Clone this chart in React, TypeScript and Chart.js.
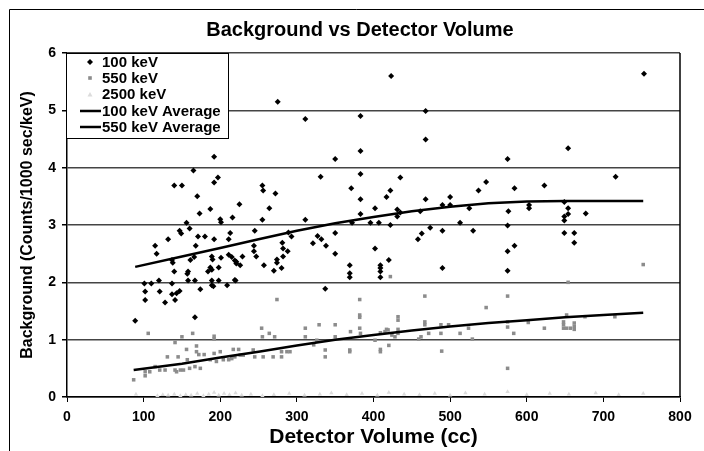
import React, { useEffect, useRef } from "react";
import { Chart, registerables } from "chart.js";

Chart.register(...registerables);

const FONT = '"Liberation Sans", Arial, Helvetica, sans-serif';

const chartTitle = "Background vs Detector Volume";
const xAxisTitle = "Detector Volume (cc)";
const yAxisTitle = "Background (Counts/1000 sec/keV)";
const seriesNames = ["100 keV", "550 keV", "2500 keV", "100 keV Average", "550 keV Average"];

const xRange = [0, 800, 100];
const yRange = [0, 6, 1];

// 100 keV measurements [volume cc, background]
const kev100: [number, number][] = [
  [192, 4.19], [165, 3.95], [140, 3.69], [150, 3.69], [192, 3.74], [197, 3.83], [170, 3.5], [173, 3.2],
  [187, 3.28], [156, 3.04], [147, 2.9], [149, 2.85], [160, 2.94], [132, 2.75], [115, 2.64], [117, 2.5],
  [171, 2.8], [180, 2.8], [192, 2.75], [168, 2.64], [200, 3.1], [201, 3.05], [216, 3.13], [213, 2.86],
  [211, 2.75], [137, 2.39], [138, 2.34], [140, 2.19], [158, 2.19], [157, 2.15], [161, 2.39], [166, 2.44],
  [189, 2.45], [190, 2.4], [201, 2.43], [187, 2.26], [189, 2.22], [184, 2.19], [198, 2.26], [211, 2.48],
  [215, 2.44], [219, 2.38], [221, 2.33], [101, 1.98], [110, 1.98], [120, 2.03], [137, 1.98], [158, 2.03],
  [167, 2.03], [189, 2.03], [189, 1.95], [198, 2.03], [209, 1.95], [220, 2.03], [102, 1.84], [121, 1.84],
  [102, 1.69], [128, 1.65], [137, 1.79], [143, 1.81], [147, 1.85], [141, 1.69], [174, 1.88], [191, 1.93],
  [89, 1.33], [167, 1.39],
  [275, 5.15], [311, 4.85], [383, 4.9], [383, 4.29], [350, 4.15], [383, 3.89], [331, 3.84], [371, 3.64],
  [383, 3.45], [417, 3.49], [422, 3.6], [255, 3.69], [256, 3.6], [272, 3.55], [225, 3.36], [264, 3.29],
  [255, 3.09], [311, 3.09], [383, 3.19], [402, 3.29], [407, 3.04], [396, 3.04], [372, 3.04], [422, 3.0],
  [245, 2.9], [289, 2.87], [293, 2.8], [327, 2.81], [332, 2.75], [321, 2.68], [338, 2.64], [350, 2.86],
  [244, 2.64], [244, 2.54], [247, 2.45], [229, 2.45], [226, 2.3], [221, 2.36], [281, 2.69], [282, 2.59],
  [288, 2.54], [282, 2.45], [274, 2.4], [274, 2.34], [280, 2.25], [270, 2.2], [257, 2.3], [350, 2.5],
  [402, 2.59], [420, 2.39], [369, 2.3], [369, 2.16], [369, 2.09], [409, 2.3], [409, 2.25], [409, 2.19],
  [409, 2.09], [219, 2.04], [337, 1.89],
  [468, 4.99], [468, 4.49], [575, 4.15], [435, 3.83], [547, 3.75], [537, 3.6], [584, 3.64], [623, 3.69],
  [468, 3.45], [500, 3.49], [490, 3.35], [500, 3.35], [431, 3.27], [435, 3.22], [431, 3.15], [461, 3.24],
  [525, 3.29], [576, 3.24], [603, 3.35], [603, 3.29], [513, 3.04], [575, 2.99], [474, 2.95], [463, 2.85],
  [458, 2.75], [490, 2.9], [530, 2.9], [575, 2.54], [584, 2.64], [490, 2.25], [575, 2.2], [423, 5.6],
  [753, 5.64], [654, 4.34], [716, 3.84], [649, 3.4], [654, 3.29], [654, 3.19], [649, 3.15], [649, 3.08],
  [677, 3.2], [649, 2.86], [662, 2.86], [662, 2.69],
];

// 550 keV measurements
const kev550: [number, number][] = [
  [274, 1.7], [382, 1.7], [382, 1.43], [382, 1.39], [382, 1.2], [106, 1.11], [150, 1.05], [164, 1.11],
  [192, 1.06], [192, 1.01], [254, 1.2], [255, 1.05], [264, 1.11], [271, 1.05], [311, 1.2], [311, 1.05],
  [329, 1.26], [350, 1.26], [350, 1.05], [370, 1.14], [383, 1.11], [417, 1.18], [409, 1.12], [141, 0.95],
  [156, 0.83], [169, 0.89], [169, 0.79], [172, 0.74], [131, 0.7], [145, 0.7], [157, 0.65], [179, 0.74],
  [192, 0.76], [200, 0.79], [217, 0.83], [224, 0.83], [243, 0.82], [245, 0.7], [256, 0.7], [269, 0.7],
  [280, 0.7], [280, 0.79], [287, 0.79], [291, 0.79], [187, 0.65], [195, 0.62], [204, 0.65], [211, 0.65],
  [215, 0.67], [219, 0.7], [226, 0.73], [230, 0.73], [167, 0.53], [160, 0.5], [174, 0.5], [141, 0.47],
  [143, 0.44], [148, 0.47], [152, 0.47], [115, 0.53], [121, 0.47], [128, 0.47], [108, 0.44], [102, 0.44],
  [102, 0.37], [87, 0.3], [337, 0.82], [337, 0.7], [322, 0.91], [326, 0.99], [369, 0.82], [369, 0.79],
  [402, 0.99], [409, 0.83], [409, 0.79],
  [467, 1.76], [575, 1.76], [547, 1.56], [432, 1.4], [432, 1.34], [467, 1.31], [467, 1.26], [488, 1.26],
  [498, 1.26], [472, 1.11], [488, 1.11], [513, 1.11], [524, 1.2], [415, 1.14], [419, 1.17], [424, 1.08],
  [428, 1.05], [432, 1.11], [432, 1.18], [420, 0.9], [459, 1.01], [462, 1.05], [489, 0.8], [529, 1.01],
  [575, 1.31], [575, 1.22], [583, 1.11], [575, 0.5], [602, 1.3], [623, 1.2], [648, 1.31], [648, 1.26],
  [648, 1.2], [652, 1.2], [657, 1.2], [662, 1.29], [662, 1.23], [662, 1.18], [652, 1.43], [676, 1.4],
  [715, 1.4], [654, 2.0], [752, 2.31], [422, 2.1],
];

// 2500 keV measurements (near zero)
const kev2500: [number, number][] = [
  [90, 0.05], [118, 0.02], [125, 0.04], [132, 0.03], [140, 0.05], [148, 0.02], [155, 0.04], [162, 0.03],
  [170, 0.06], [178, 0.02], [185, 0.05], [192, 0.08], [198, 0.03], [205, 0.06], [212, 0.04], [220, 0.07],
  [228, 0.03], [240, 0.05], [255, 0.02], [270, 0.04], [290, 0.06], [310, 0.03], [330, 0.05], [345, 0.07],
  [365, 0.04], [385, 0.06], [405, 0.03], [420, 0.08], [440, 0.05], [460, 0.04], [480, 0.06], [500, 0.03],
  [520, 0.07], [545, 0.05], [575, 0.09], [600, 0.04], [630, 0.06], [655, 0.05], [690, 0.07], [720, 0.04],
  [752, 0.06],
];

// Average (fit) curves
const avg100: [number, number][] = [
  [89, 2.27], [150, 2.45], [200, 2.6], [250, 2.75], [300, 2.9], [350, 3.03], [400, 3.14], [450, 3.24],
  [500, 3.32], [550, 3.38], [600, 3.41], [650, 3.42], [752, 3.42],
];
const avg550: [number, number][] = [
  [87, 0.47], [150, 0.58], [200, 0.69], [250, 0.79], [300, 0.9], [350, 1.0], [400, 1.08], [450, 1.16],
  [500, 1.23], [550, 1.29], [600, 1.34], [650, 1.39], [700, 1.43], [752, 1.47],
];

const toPts = (a: [number, number][]) => a.map(([x, y]) => ({ x, y }));

export default function App() {
  const ref = useRef<HTMLCanvasElement>(null);

  useEffect(() => {
    if (!ref.current) return;

    const overlay = {
      id: "overlay",
      beforeDraw(chart: any) {
        const ctx = chart.ctx;
        ctx.save();
        ctx.fillStyle = "#fff";
        ctx.fillRect(0, 0, chart.width, chart.height);
        ctx.strokeStyle = "#000";
        ctx.lineWidth = 1;
        ctx.beginPath();
        ctx.moveTo(9.5, chart.height);
        ctx.lineTo(9.5, 9.5);
        ctx.lineTo(chart.width, 9.5);
        ctx.stroke();
        ctx.restore();
      },
      afterDraw(chart: any) {
        const ctx = chart.ctx;
        const area = chart.chartArea;
        ctx.save();
        // right border of plot
        ctx.strokeStyle = "#000";
        ctx.lineWidth = 1.5;
        ctx.beginPath();
        ctx.moveTo(area.right, area.top);
        ctx.lineTo(area.right, area.bottom);
        ctx.stroke();

        // title
        ctx.fillStyle = "#000";
        ctx.font = `bold 20px ${FONT}`;
        ctx.textAlign = "center";
        ctx.textBaseline = "middle";
        ctx.fillText(chartTitle, 360, 30);

        // legend
        const lx = 66.5, ly = 53.5, lw = 162, lh = 85;
        ctx.fillStyle = "#fff";
        ctx.fillRect(lx, ly, lw, lh);
        ctx.strokeStyle = "#000";
        ctx.lineWidth = 1;
        ctx.strokeRect(lx, ly, lw, lh);
        const rows = [62, 78, 94.5, 111, 127];
        const mx = 90;
        // diamond
        ctx.fillStyle = "#000";
        ctx.beginPath();
        ctx.moveTo(mx, rows[0] - 3);
        ctx.lineTo(mx + 3, rows[0]);
        ctx.lineTo(mx, rows[0] + 3);
        ctx.lineTo(mx - 3, rows[0]);
        ctx.closePath();
        ctx.fill();
        // square
        ctx.fillStyle = "#8c8c8c";
        ctx.fillRect(mx - 1.8, rows[1] - 1.8, 3.6, 3.6);
        // triangle
        ctx.fillStyle = "#dcdcdc";
        ctx.beginPath();
        ctx.moveTo(mx, rows[2] - 2.5);
        ctx.lineTo(mx + 2.5, rows[2] + 2);
        ctx.lineTo(mx - 2.5, rows[2] + 2);
        ctx.closePath();
        ctx.fill();
        // lines
        ctx.strokeStyle = "#000";
        ctx.lineWidth = 2.5;
        [rows[3], rows[4]].forEach((ry) => {
          ctx.beginPath();
          ctx.moveTo(80, ry);
          ctx.lineTo(101, ry);
          ctx.stroke();
        });
        ctx.fillStyle = "#000";
        ctx.font = `bold 15px ${FONT}`;
        ctx.textAlign = "left";
        ctx.textBaseline = "middle";
        chart.data.datasets.forEach((ds: any, i: number) => {
          ctx.fillText(ds.label, 102, rows[i] + 0.5);
        });
        ctx.restore();
      },
    };

    const chart = new Chart(ref.current, {
      type: "scatter",
      data: {
        datasets: [
          {
            label: seriesNames[0],
            data: toPts(kev100),
            pointStyle: "rectRot",
            pointRadius: 3,
            backgroundColor: "#000",
            borderColor: "#000",
            borderWidth: 0,
            order: 1,
          },
          {
            label: seriesNames[1],
            data: toPts(kev550),
            pointStyle: "rect",
            pointRadius: 2.5,
            backgroundColor: "#8c8c8c",
            borderColor: "#8c8c8c",
            borderWidth: 0,
            order: 2,
          },
          {
            label: seriesNames[2],
            data: toPts(kev2500),
            pointStyle: "triangle",
            pointRadius: 2.5,
            backgroundColor: "#dcdcdc",
            borderColor: "#dcdcdc",
            borderWidth: 0,
            order: 3,
          },
          {
            label: seriesNames[3],
            data: toPts(avg100),
            showLine: true,
            pointRadius: 0,
            borderColor: "#000",
            backgroundColor: "#000",
            borderWidth: 2.5,
            order: 0,
          } as any,
          {
            label: seriesNames[4],
            data: toPts(avg550),
            showLine: true,
            pointRadius: 0,
            borderColor: "#000",
            backgroundColor: "#000",
            borderWidth: 2.5,
            order: 0,
          } as any,
        ],
      },
      options: {
        animation: false,
        responsive: false,
        maintainAspectRatio: false,
        layout: { padding: { top: 53, right: 24, bottom: 0, left: 0 } },
        plugins: {
          legend: { display: false },
          title: { display: false },
          tooltip: { enabled: false },
        },
        scales: {
          x: {
            type: "linear",
            min: xRange[0],
            max: xRange[1],
            ticks: {
              stepSize: xRange[2],
              color: "#000",
              padding: 7,
              maxRotation: 0,
              font: { family: FONT, size: 14, weight: "bold" },
            },
            grid: { drawOnChartArea: false, drawTicks: true, tickLength: 5, color: "#000", tickColor: "#000" },
            border: { color: "#000", width: 1.5 },
            title: {
              display: true,
              text: xAxisTitle,
              color: "#000",
              font: { family: FONT, size: 21, weight: "bold" },
              padding: { top: 0, bottom: 1 },
            },
            afterFit(scale: any) {
              scale.height = 54;
            },
          },
          y: {
            type: "linear",
            min: yRange[0],
            max: yRange[1],
            ticks: {
              stepSize: yRange[2],
              color: "#000",
              padding: 6,
              font: { family: FONT, size: 14, weight: "bold" },
            },
            grid: { color: "#444", lineWidth: 1.5, drawTicks: true, tickLength: 5, tickColor: "#000" },
            border: { color: "#000", width: 1.5 },
            title: {
              display: true,
              text: yAxisTitle,
              color: "#000",
              font: { family: FONT, size: 16, weight: "bold" },
              padding: { top: 18, bottom: 0 },
            },
            afterFit(scale: any) {
              scale.width = 67;
            },
          },
        },
      },
      plugins: [overlay],
    } as any);

    return () => chart.destroy();
  }, []);

  return (
    <div style={{ position: "fixed", left: 0, top: 0, width: 704, height: 451, background: "#fff" }}>
      <canvas ref={ref} width={704} height={451} style={{ display: "block", width: 704, height: 451 }} />
    </div>
  );
}
